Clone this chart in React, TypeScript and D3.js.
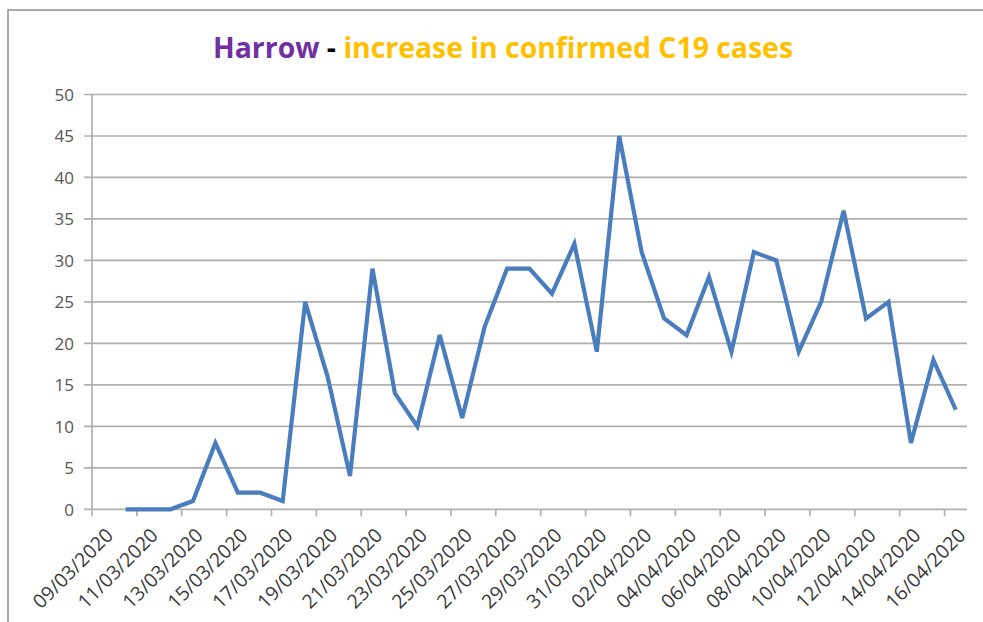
import React from "react";
import * as d3 from "d3";

const dates: string[] = [
  "10/03/2020","11/03/2020","12/03/2020","13/03/2020","14/03/2020","15/03/2020","16/03/2020","17/03/2020",
  "18/03/2020","19/03/2020","20/03/2020","21/03/2020","22/03/2020","23/03/2020","24/03/2020","25/03/2020",
  "26/03/2020","27/03/2020","28/03/2020","29/03/2020","30/03/2020","31/03/2020","01/04/2020","02/04/2020",
  "03/04/2020","04/04/2020","05/04/2020","06/04/2020","07/04/2020","08/04/2020","09/04/2020","10/04/2020",
  "11/04/2020","12/04/2020","13/04/2020","14/04/2020","15/04/2020","16/04/2020",
];
const cases: number[] = [
  0, 0, 0, 1, 8, 2, 2, 1,
  25, 16, 4, 29, 14, 10, 21, 11,
  22, 29, 29, 26, 32, 19, 45, 31,
  23, 21, 28, 19, 31, 30, 19, 25,
  36, 23, 25, 8, 18, 12,
];
const yTicks: number[] = [0, 5, 10, 15, 20, 25, 30, 35, 40, 45, 50];
const axisStart = "09/03/2020";
const axisEnd = "17/04/2020";
const titleParts = [
  { text: "Harrow", color: "#7030A0" },
  { text: " - ", color: "#000000" },
  { text: "increase in confirmed C19 cases", color: "#FFC000" },
];

const parse = d3.utcParse("%d/%m/%Y");
const fmt = d3.utcFormat("%d/%m/%Y");

export default function App() {
  const W = 983, H = 622;
  const left = 92, right = 967, top = 94.5, bottom = 509.3;
  const x = d3.scaleUtc().domain([parse(axisStart)!, parse(axisEnd)!]).range([left, right]);
  const y = d3.scaleLinear().domain([0, 50]).range([bottom, top]);
  const tickDates = d3.utcDay.range(parse(axisStart)!, parse(axisEnd)!).filter((_, i) => i % 2 === 0);
  const pts = dates.map((d, i) => ({ date: d3.utcHour.offset(parse(d)!, 12), v: cases[i] }));
  const line = d3.line<{ date: Date; v: number }>().x(d => x(d.date)).y(d => y(d.v));
  const grid = "#B0B0B0";
  return (
    <svg width={W} height={H} style={{ position: "absolute", left: 0, top: 0, background: "#fff" }}
      fontFamily="'Open Sans', 'Liberation Sans', sans-serif">
      <rect x={8} y={10} width={1000} height={700} fill="#fff" stroke="#8E8E8E" strokeWidth={1.5} />
      <text x={503} y={58} textAnchor="middle" fontSize={29} fontWeight="bold"
        fontFamily="'Liberation Sans Narrow', 'Open Sans', sans-serif"
        textLength={580} lengthAdjust="spacingAndGlyphs">
        {titleParts.map((p, i) => (
          <tspan key={i} fill={p.color}>{p.text}</tspan>
        ))}
      </text>
      {yTicks.map(t => (
        <g key={t}>
          <line x1={84} x2={right} y1={y(t)} y2={y(t)} stroke={grid} strokeWidth={1.7} />
          <text x={74} y={y(t)} textAnchor="end" dominantBaseline="central" fontSize={17} fill="#555555">{t}</text>
        </g>
      ))}
      <line x1={left} x2={left} y1={top} y2={bottom} stroke={grid} strokeWidth={1.7} />
      {tickDates.map((d, i) => (
        <g key={i}>
          <line x1={x(d)} x2={x(d)} y1={bottom} y2={bottom + 7} stroke={grid} strokeWidth={1.7} />
          <text transform={`translate(${x(d) + 17},${bottom + 22}) rotate(-45)`} textAnchor="end"
            dominantBaseline="central" fontSize={19.5} fill="#3A3A3A">{fmt(d)}</text>
        </g>
      ))}
      <path d={line(pts) ?? ""} fill="none" stroke="#4A7DBE" strokeWidth={4.2} strokeLinejoin="miter" />
    </svg>
  );
}
